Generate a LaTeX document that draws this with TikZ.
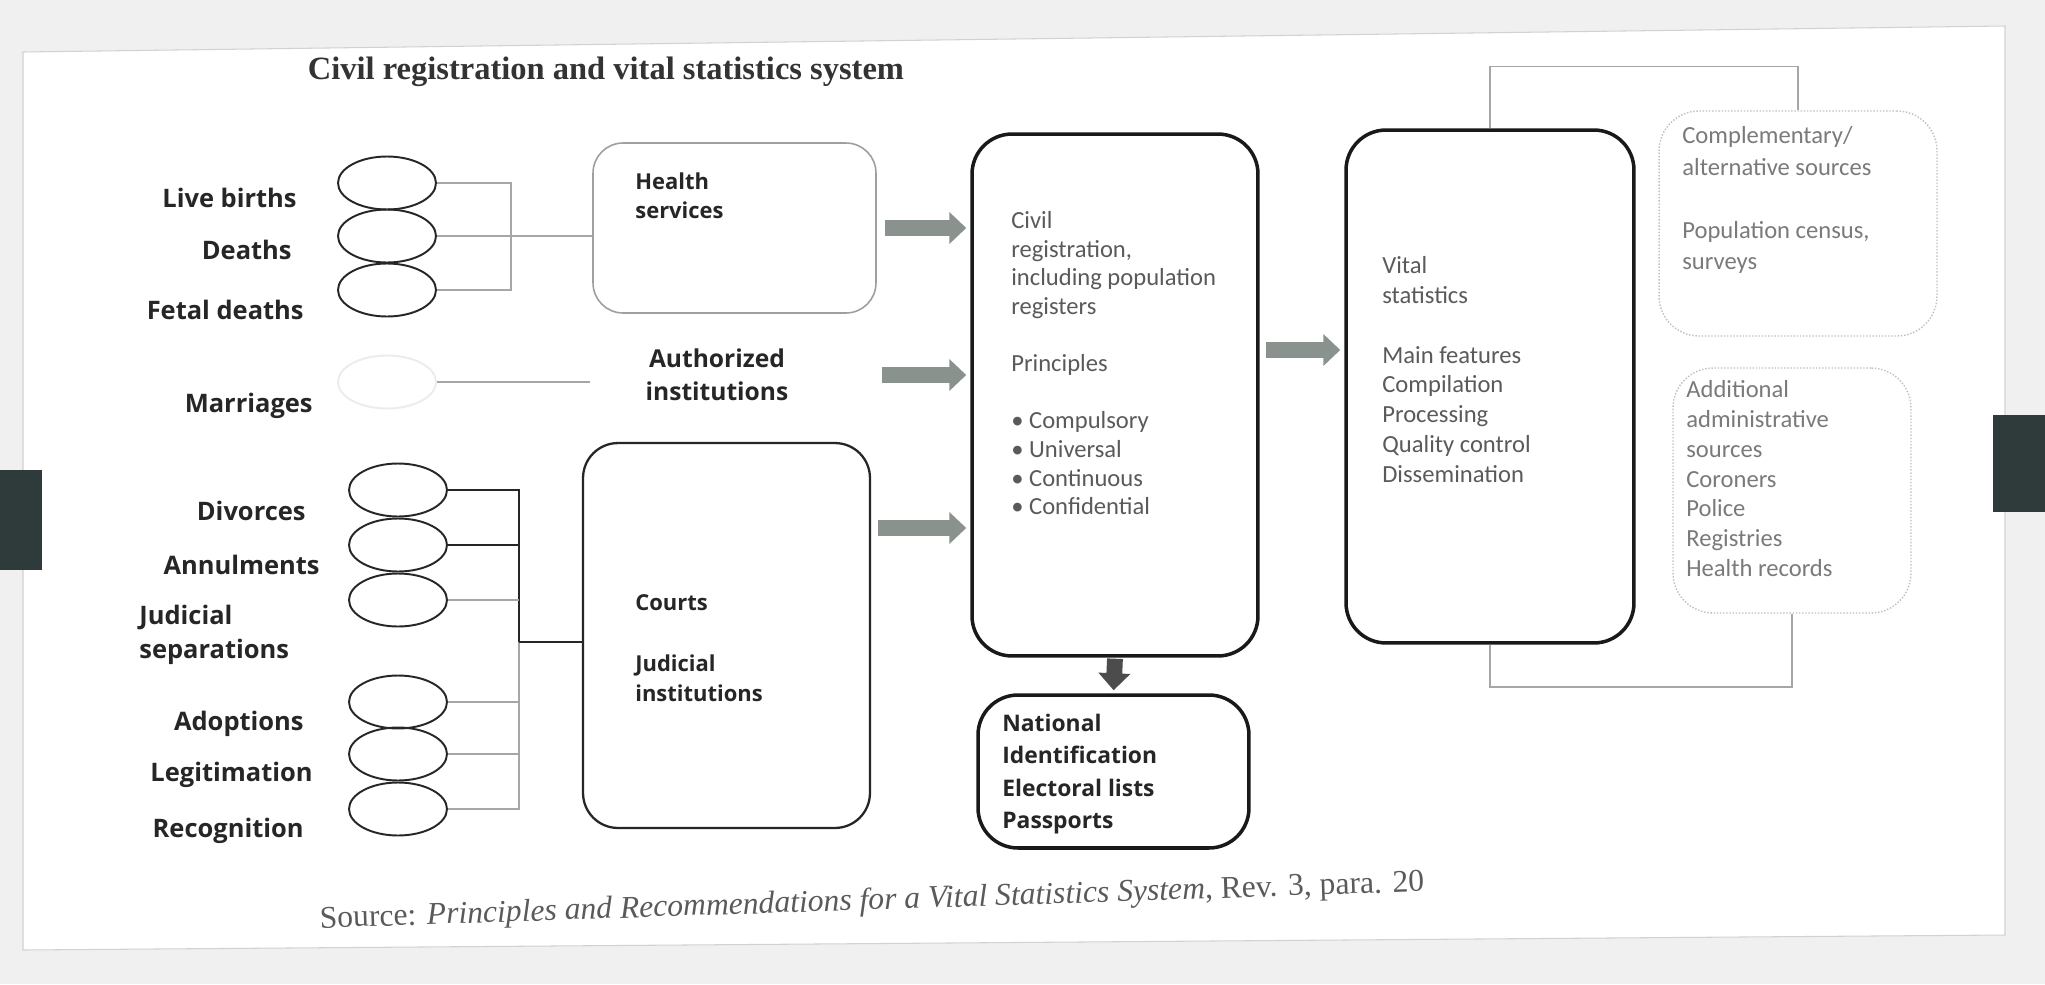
\documentclass[tikz,border=0pt]{standalone}
\usepackage{fontspec}
\setmainfont{Liberation Serif}
\newfontfamily\labelfont{Open Sans}
\newfontfamily\boxfont{Carlito}
\usetikzlibrary{shapes.geometric,arrows.meta}
\definecolor{arrowgray}{HTML}{8A928E}
\definecolor{inkgray}{HTML}{5A5A5A}
\definecolor{palegray}{HTML}{7A7A7A}
\definecolor{tabdark}{HTML}{2E3B3A}

\begin{document}
\begin{tikzpicture}[x=0.02cm,y=-0.02cm,
  lbl/.style={font={\labelfont\bfseries\fontsize{14.5}{18}\selectfont}, text=black!85, inner sep=0pt},
  boxlbl/.style={lbl, align=left, anchor=north west, font={\labelfont\bfseries\fontsize{12.5}{17}\selectfont}},
  boxtxt/.style={font={\boxfont\fontsize{14}{16.3}\selectfont}, text=inkgray, align=left, anchor=north west, inner sep=0pt},
  sidetxt/.style={font={\boxfont\fontsize{14}{17}\selectfont}, text=palegray, align=left, anchor=north west, inner sep=0pt},
  evt/.style={ellipse, draw=black!85, line width=1.1pt, minimum width=1.96cm, minimum height=1.06cm, inner sep=0pt},
  evtfaint/.style={evt, draw=gray!15},
  link/.style={draw=gray!70, line width=0.9pt},
  darklink/.style={draw=black!85, line width=1.1pt},
  softbox/.style={draw=gray!75, line width=0.9pt, rounded corners=0.6cm, inner sep=0pt},
  courtbox/.style={draw=black!85, line width=1.3pt, rounded corners=0.7cm, inner sep=0pt},
  heavybox/.style={draw=black!90, line width=2pt, rounded corners=0.8cm, inner sep=0pt},
  faintbox/.style={draw=gray!50, line width=0.8pt, densely dotted, rounded corners=0.8cm, inner sep=0pt},
  bigarrow/.style={draw=arrowgray, line width=9pt, -{Triangle[length=0.34cm,width=0.62cm]}, shorten <=0.16cm, shorten >=0.08cm}
]
\useasboundingbox (0,0) rectangle (2045,984);

% photographed page
\fill[gray!12] (0,0) rectangle (2045,984);
\filldraw[fill=white, draw=gray!35, line width=0.6pt] (23,52) -- (2005,26) -- (2005,935) -- (23,950) -- cycle;
\fill[tabdark] (0,470) rectangle (42,570);
\fill[tabdark] (1993,415) rectangle (2045,512);

\node[font={\bfseries\fontsize{18.5}{22}\selectfont}, text=black!80] (title) at (606,72) {Civil registration and vital statistics system};

% events
\node[evt] (lb) at (387,183) {};
\node[evt] (dt) at (387,236) {};
\node[evt] (fd) at (387,290) {};
\node[evtfaint] (mr) at (387,382) {};
\node[evt] (dv) at (398,490) {};
\node[evt] (an) at (398,545) {};
\node[evt] (js) at (398,600) {};
\node[evt] (ad) at (398,702) {};
\node[evt] (lg) at (398,754) {};
\node[evt] (rc) at (398,809) {};

\node[lbl, anchor=east] (lbtxt) at (297,198) {Live births};
\node[lbl, anchor=east] (dttxt) at (292,250) {Deaths};
\node[lbl, anchor=east] (fdtxt) at (304,310) {Fetal deaths};
\node[lbl, anchor=east] (mrtxt) at (313,406) {Marriages};
\node[lbl, anchor=east] (dvtxt) at (306,511) {Divorces};
\node[lbl, anchor=east] (antxt) at (320,565) {Annulments};
\node[lbl, anchor=west, align=left, font={\labelfont\bfseries\fontsize{14.5}{19}\selectfont}] (jstxt) at (139,635) {Judicial\\separations};
\node[lbl, anchor=east] (adtxt) at (304,724) {Adoptions};
\node[lbl, anchor=east] (lgtxt) at (313,775) {Legitimation};
\node[lbl, anchor=east] (rctxt) at (304,831) {Recognition};

% registering bodies
\node[softbox, minimum width=5.66cm, minimum height=3.4cm] (hs) at (734.5,228) {};
\node[boxlbl] (hstxt) at (635,172) {Health\\services};
\node[lbl, align=center, minimum width=5.08cm, font={\labelfont\bfseries\fontsize{14}{19}\selectfont}] (ai) at (717,375) {Authorized\\institutions};
\node[courtbox, minimum width=5.74cm, minimum height=7.7cm] (ct) at (726.5,635.5) {};
\node[boxlbl] (cttxt) at (635,594) {Courts\\[18pt]Judicial\\institutions};

% civil registration and vital statistics
\node[heavybox, minimum width=5.72cm, minimum height=10.44cm] (cr) at (1115,395) {};
\node[boxtxt] (crtxt) at (1011,211) {Civil\\registration,\\including population\\registers\\[16.3pt]Principles\\[16.3pt]\textbullet\ Compulsory\\\textbullet\ Universal\\\textbullet\ Continuous\\\textbullet\ Confidential};
\node[heavybox, minimum width=5.42cm, minimum height=3.06cm] (ni) at (1113.5,771.5) {};
\node[boxlbl, font={\labelfont\bfseries\fontsize{13}{18.3}\selectfont}] (nitxt) at (1002,714) {National\\Identification\\Electoral lists\\Passports};
\node[heavybox, minimum width=5.76cm, minimum height=10.26cm] (vs) at (1490,386.5) {};
\node[boxtxt, font={\boxfont\fontsize{14}{17}\selectfont}] (vstxt) at (1382,256) {Vital\\statistics\\[17pt]Main features\\Compilation\\Processing\\Quality control\\Dissemination};

% other sources
\node[faintbox, minimum width=5.56cm, minimum height=4.5cm] (cs) at (1798,223.5) {};
\node[sidetxt, font={\boxfont\fontsize{14}{18}\selectfont}] (cstxt) at (1682,126) {Complementary/\\alternative sources\\[18pt]Population census,\\surveys};
\node[faintbox, minimum width=4.76cm, minimum height=4.9cm] (as) at (1792,490.5) {};
\node[sidetxt] (astxt) at (1686,380) {Additional\\administrative\\sources\\Coroners\\Police\\Registries\\Health records};

% connectors
\coordinate (hsjoin) at (511,236);
\draw[link] (lb.east) -| (hsjoin) |- (fd.east);
\draw[link] (dt.east) -- (dt.east -| hs.west);
\draw[link] (mr.east) -- (mr.east -| ai.west);
\coordinate (ctjoin) at (519,642);
\draw[darklink] (dv.east) -| (ctjoin);
\draw[darklink] (an.east) -- (an.east -| ctjoin);
\draw[link] (js.east) -- (js.east -| ctjoin);
\draw[link] (ad.east) -- (ad.east -| ctjoin);
\draw[link] (lg.east) -- (lg.east -| ctjoin);
\draw[link] (rc.east) -| (ctjoin);
\draw[darklink] (ctjoin) -- (ctjoin -| ct.west);

\draw[bigarrow] (hs.east) -- (hs.east -| cr.west);
\draw[bigarrow, shorten <=0.76cm] (ai.east) -- (ai.east -| cr.west);
\coordinate (ctout) at (870,528);
\draw[bigarrow] (ctout) -- (ctout -| cr.west);
\coordinate (crout) at (1258,350);
\draw[bigarrow] (crout) -- (crout -| vs.west);
\draw[bigarrow, draw=black!70, shorten <=0.02cm, shorten >=0.06cm] (cr.south) -- (ni.north);

\draw[link] (vs.north) -- ++(0,-62) -| (cs.north);
\draw[link] (vs.south) -- ++(0,42) -| (as.south);

\node[rotate=1.9, text=inkgray, font=\fontsize{18}{21}\selectfont] (src) at (872,902) {Source: \textit{Principles and Recommendations for a Vital Statistics System}, Rev. 3, para. 20};
\end{tikzpicture}
\end{document}
